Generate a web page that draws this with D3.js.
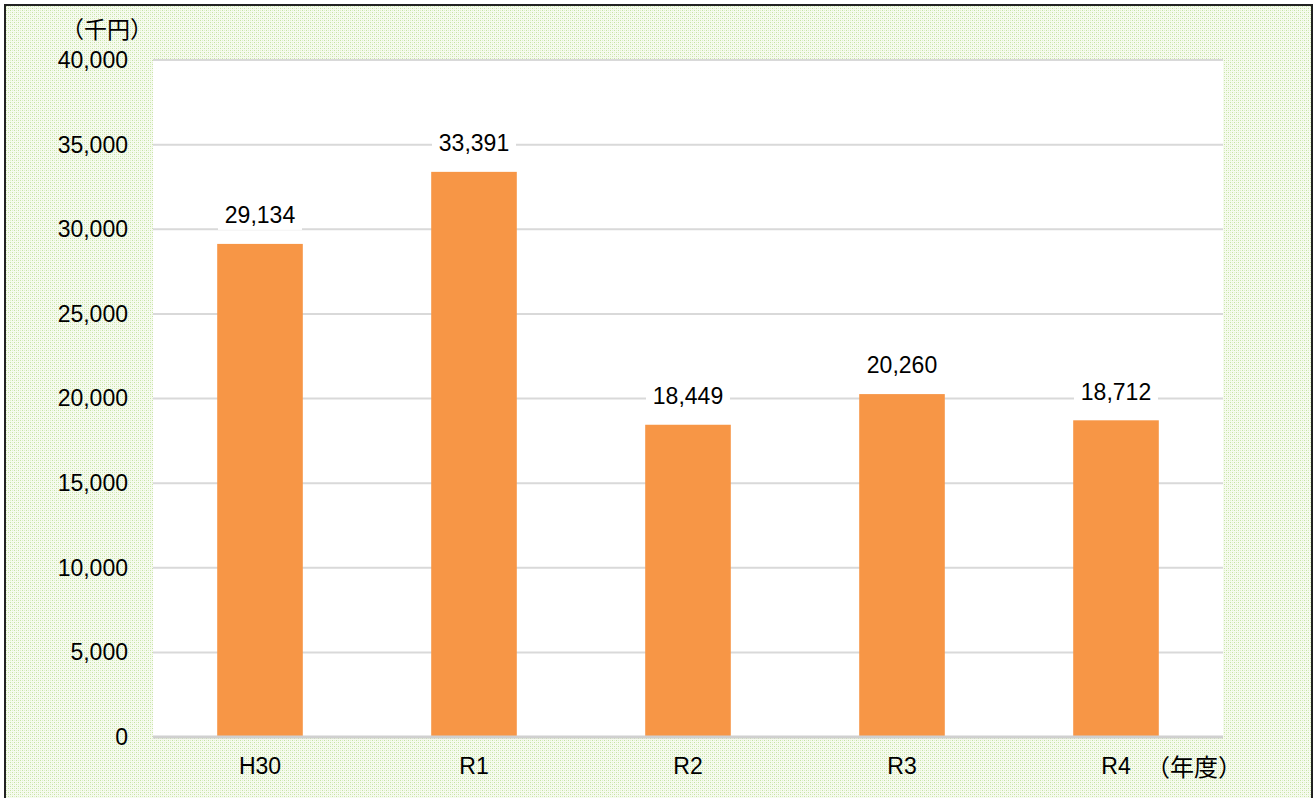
<!DOCTYPE html>
<html>
<head>
<meta charset="utf-8">
<script src="https://cdn.jsdelivr.net/npm/d3@7"></script>
<style>
  body { margin: 0; background: #fff; }
  svg { display: block; }
</style>
</head>
<body>
<div id="chart"></div>
<script>
// data
var categories = ["H30", "R1", "R2", "R3", "R4"];
var values = [29134, 33391, 18449, 20260, 18712];
var yTicks = [0, 5000, 10000, 15000, 20000, 25000, 30000, 35000, 40000];

var W = 1316, H = 798;
var margin = {top: 60, right: 93, bottom: 61, left: 153},
    width = W - margin.left - margin.right,
    height = H - margin.top - margin.bottom;

var numFont = "'Liberation Sans', Arial, sans-serif";
var jpFont = "'Noto Sans CJK JP', sans-serif";
var fmt = d3.format(",");

var svg = d3.select("#chart")
    .append("svg")
        .attr("width", W)
        .attr("height", H);

// dotted green background
var pat = svg.append("defs").append("pattern")
    .attr("id", "dots")
    .attr("width", 4)
    .attr("height", 4)
    .attr("patternUnits", "userSpaceOnUse");
pat.append("rect").attr("width", 4).attr("height", 4).attr("fill", "#f6fbef");
pat.append("rect").attr("x", 0).attr("y", 0).attr("width", 1).attr("height", 1).attr("fill", "#c6e3a4");
pat.append("rect").attr("x", 2).attr("y", 2).attr("width", 1).attr("height", 1).attr("fill", "#c6e3a4");
pat.append("rect").attr("x", 2).attr("y", 0).attr("width", 1).attr("height", 1).attr("fill", "#e0f0cc");
pat.append("rect").attr("x", 0).attr("y", 2).attr("width", 1).attr("height", 1).attr("fill", "#e0f0cc");

svg.append("rect")
    .attr("x", 5).attr("y", 5)
    .attr("width", 1307).attr("height", 800)
    .attr("fill", "url(#dots)")
    .attr("stroke", "#222")
    .attr("stroke-width", 2);

var g = svg.append("g")
    .attr("transform", "translate(" + margin.left + "," + margin.top + ")");

// plot area
g.append("rect")
    .attr("width", width)
    .attr("height", height)
    .attr("fill", "#fff");

var x = d3.scaleBand()
    .domain(categories)
    .range([0, width])
    .paddingInner(0.6)
    .paddingOuter(0.3);

var y = d3.scaleLinear()
    .domain([0, 40000])
    .range([height, 0]);

// gridlines
g.append("g")
    .selectAll("line")
    .data(yTicks.filter(function(d) { return d > 0; }))
    .enter().append("line")
        .attr("x1", 0)
        .attr("x2", width)
        .attr("y1", function(d) { return y(d); })
        .attr("y2", function(d) { return y(d); })
        .attr("stroke", "#d9d9d9")
        .attr("stroke-width", 2);

// Y axis labels
var yAxis = g.append("g")
    .call(d3.axisLeft(y).tickValues(yTicks).tickFormat(fmt).tickSize(0).tickPadding(25));
yAxis.select(".domain").remove();
yAxis.selectAll("text")
    .style("font-family", numFont)
    .style("font-size", "23px")
    .attr("fill", "#000");

// bars
g.selectAll(".bar")
    .data(values)
    .enter().append("rect")
        .attr("class", "bar")
        .attr("x", function(d, i) { return x(categories[i]); })
        .attr("y", function(d) { return y(d); })
        .attr("width", x.bandwidth())
        .attr("height", function(d) { return height - y(d); })
        .attr("fill", "#f79646");

// baseline
g.append("line")
    .attr("x1", 0).attr("x2", width)
    .attr("y1", height).attr("y2", height)
    .attr("stroke", "#d0d0d0")
    .attr("stroke-width", 3);

// value labels with white box
var lab = g.selectAll(".lab")
    .data(values)
    .enter().append("g")
        .attr("class", "lab")
        .attr("transform", function(d, i) {
            return "translate(" + (x(categories[i]) + x.bandwidth() / 2) + "," + (y(d) - 29) + ")";
        });
lab.append("rect")
    .attr("x", -42).attr("y", -15)
    .attr("width", 84).attr("height", 30)
    .attr("fill", "#fff");
lab.append("text")
    .attr("text-anchor", "middle")
    .attr("dy", "0.36em")
    .style("font-family", numFont)
    .style("font-size", "23px")
    .text(function(d) { return fmt(d); });

// X axis labels
var xAxis = g.append("g")
    .attr("transform", "translate(0," + height + ")")
    .call(d3.axisBottom(x).tickSize(0).tickPadding(21));
xAxis.select(".domain").remove();
xAxis.selectAll("text")
    .style("font-family", numFont)
    .style("font-size", "23px")
    .attr("fill", "#000");

// unit labels
svg.append("text")
    .attr("x", 107)
    .attr("y", 38)
    .attr("text-anchor", "middle")
    .style("font-family", jpFont)
    .style("font-size", "23px")
    .text("（千円）");

svg.append("text")
    .attr("x", 1194)
    .attr("y", 776)
    .attr("text-anchor", "middle")
    .style("font-family", jpFont)
    .style("font-size", "24px")
    .text("（年度）");
</script>
</body>
</html>
